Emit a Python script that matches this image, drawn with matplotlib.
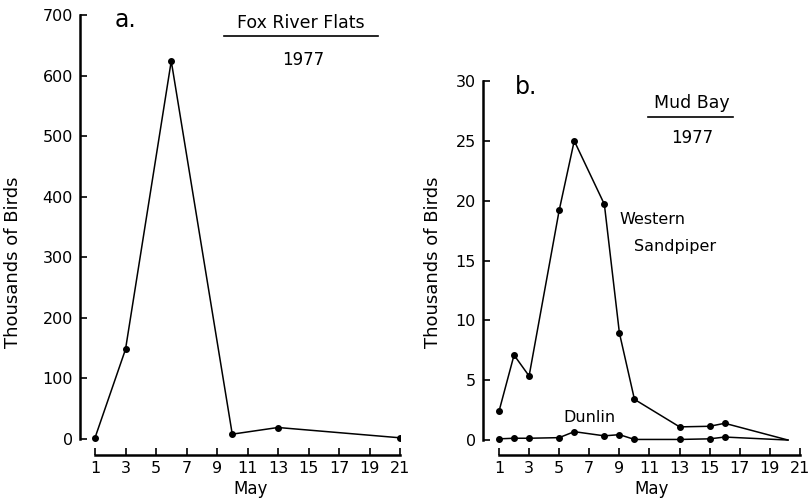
import matplotlib.pyplot as plt
from matplotlib.lines import Line2D

# Panel a: Fox River Flats 1977
fox_days = [1, 3, 6, 10, 13, 21]
fox_birds = [2, 148, 624, 8, 19, 2]

# Panel b: Mud Bay 1977 (last point is where the line runs out, no marker)
mud_days = [1, 2, 3, 5, 6, 8, 9, 10, 13, 15, 16, 20.2]
western = [2.4, 7.1, 5.35, 19.2, 25.0, 19.7, 8.95, 3.4, 1.1, 1.15, 1.4, 0]
dunlin = [0.1, 0.15, 0.15, 0.2, 0.7, 0.35, 0.45, 0.05, 0.05, 0.1, 0.25, 0]

xticks = list(range(1, 22, 2))
W, H = 809, 499

plt.rcParams['font.family'] = 'DejaVu Sans'

fig = plt.figure(figsize=(W / 100, H / 100), dpi=100)


def px_axes(left, top, right, bottom):
    return fig.add_axes([left / W, 1 - bottom / H, (right - left) / W, (bottom - top) / H])


def style(ax, ymax, yticks):
    for s in ['top', 'right']:
        ax.spines[s].set_visible(False)
    ax.spines['left'].set_bounds(0, ymax)
    ax.spines['bottom'].set_bounds(1, 21)
    ax.spines['left'].set_linewidth(1.8)
    ax.spines['bottom'].set_linewidth(1.8)
    ax.set_xticks(xticks)
    ax.set_yticks(yticks)
    ax.tick_params(direction='in', length=5, width=1.2, labelsize=11.5)
    ax.tick_params(axis='y', pad=5)
    ax.tick_params(axis='x', pad=4)
    ax.set_ylabel('Thousands of Birds', fontsize=13)
    ax.set_xlabel('May', fontsize=12)


def ftext(x, y, s, **kw):
    fig.text(x / W, 1 - y / H, s, ha='center', va='center', **kw)


def fline(x0, x1, y):
    fig.add_artist(Line2D([x0 / W, x1 / W], [1 - y / H, 1 - y / H], color='black', lw=1.2))


# ---- panel a
ax1 = px_axes(80, 15, 400, 455)
ax1.plot(fox_days, fox_birds, color='black', lw=1.1, marker='o', markersize=4)
ax1.set_xlim(0.016, 21)
ax1.set_ylim(-26.4, 700)
style(ax1, 700, range(0, 701, 100))
ax1.yaxis.set_label_coords(-0.181, 0.439)
ax1.xaxis.set_label_coords(0.534, -0.057)

ftext(126, 20, 'a.', fontsize=17)
ftext(301, 23, 'Fox River Flats', fontsize=12.5)
fline(224, 378, 36)
ftext(303, 60, '1977', fontsize=12)

# ---- panel b
ax2 = px_axes(483, 81, 800, 455)
n = len(mud_days)
ax2.plot(mud_days, western, color='black', lw=1.1, marker='o', markersize=4,
         markevery=list(range(n - 1)))
ax2.plot(mud_days, dunlin, color='black', lw=1.1, marker='o', markersize=4,
         markevery=list(range(n - 1)))
ax2.set_xlim(-0.063, 21)
ax2.set_ylim(-1.25, 30)
style(ax2, 30, range(0, 31, 5))
ax2.yaxis.set_label_coords(-0.129, 0.516)
ax2.xaxis.set_label_coords(0.533, -0.067)

ftext(526, 87, 'b.', fontsize=17)
ftext(692, 103, 'Mud Bay', fontsize=12.5)
fline(648, 733, 117)
ftext(692, 138, '1977', fontsize=12)

ftext(652, 219, 'Western', fontsize=11.5)
ftext(675, 247, 'Sandpiper', fontsize=11.5)
ftext(589, 418, 'Dunlin', fontsize=11.5)

fig.savefig('out.png', dpi=100)
